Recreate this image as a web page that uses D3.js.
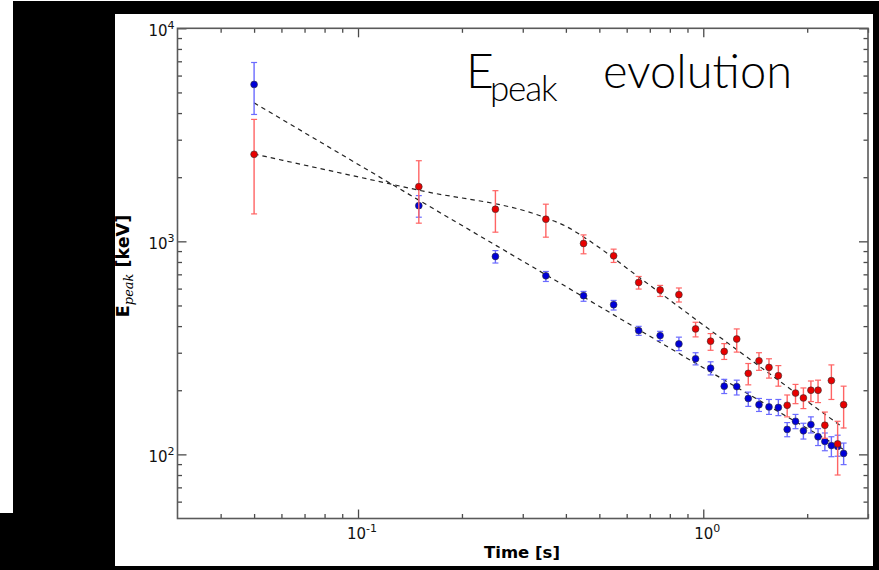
<!DOCTYPE html>
<html>
<head>
<meta charset="utf-8">
<script src="https://cdn.jsdelivr.net/npm/d3@7/dist/d3.min.js"></script>
<style>
  html, body { margin: 0; padding: 0; background: #000; }
  svg { display: block; }
</style>
</head>
<body>
<svg id="chart" width="879" height="570"></svg>
<script>
// Time bins (s)
const times = [0.05, 0.15, 0.25, 0.35, 0.45, 0.55, 0.65, 0.75, 0.85, 0.95,
               1.05, 1.15, 1.25, 1.35, 1.45, 1.55, 1.65, 1.75, 1.85, 1.95,
               2.05, 2.15, 2.25, 2.35, 2.45, 2.55];

// Blue series: Epeak (keV) with lower / upper error bounds
const blueE  = [5450, 1470, 849, 689, 556, 504, 381, 361, 330, 281,
                254, 209, 208, 183, 171, 167, 166, 131, 143, 129,
                138, 121, 115, 110, 109, 101];
const blueLo = [3940, 1298, 791, 648, 523, 476, 362, 342, 307, 263,
                236, 193, 190, 168, 159, 154, 152, 121, 132, 118,
                126, 110, 104, 97.5, 98, 89.5];
const blueHi = [6910, 1639, 905, 722, 582, 528, 399, 378, 355, 300,
                272, 225, 223, 196, 183, 181, 181, 141, 154, 140,
                150, 132, 126, 121, 123, 113];

// Red series: Epeak (keV) with lower / upper error bounds
const redE  = [2561, 1806, 1415, 1270, 977, 855, 641, 591, 562, 388,
               340, 304, 348, 240, 275, 256, 234, 170, 194, 184,
               200, 200, 137, 222, 112, 171];
const redLo = [1345, 1217, 1104, 1046, 874, 796, 597, 551, 519, 356,
               308, 279, 302, 212, 248, 228, 209, 150, 173, 164,
               177, 175, 119, 181, 80, 133];
const redHi = [3736, 2390, 1729, 1494, 1072, 919, 684, 621, 604, 417,
               369, 331, 388, 267, 300, 281, 261, 190, 213, 205,
               221, 223, 158, 263, 143, 209];

// Fitted (broken power-law) curves
const blueFitT = [0.05, 0.15, 0.35, 1.0, 2.55];
const blueFitE = [4467, 1561, 697, 255, 105.5];
const redFitT  = [0.05, 0.15, 0.35, 0.40, 0.45, 0.65, 1.0, 1.65, 2.55];
const redFitE  = [2570, 1738, 1288, 1177, 1049, 680, 405, 223, 133];

// Axis ticks
const xMajor = [0.1, 1];
const xMajorExp = ["-1", "0"];
const xMinor = [0.04, 0.05, 0.06, 0.07, 0.08, 0.09, 0.2, 0.3, 0.4, 0.5, 0.6, 0.7, 0.8, 0.9, 2, 3];
const yMajor = [100, 1000, 10000];
const yMajorExp = ["2", "3", "4"];
const yMinor = [60, 70, 80, 90, 200, 300, 400, 500, 600, 700, 800, 900,
                2000, 3000, 4000, 5000, 6000, 7000, 8000, 9000];

const svg = d3.select("#chart");

// Slide backdrop
svg.append("rect").attr("x", 0).attr("y", 0).attr("width", 879).attr("height", 570).attr("fill", "#000");
svg.append("rect").attr("x", 0).attr("y", 0).attr("width", 879).attr("height", 1).attr("fill", "#fff");
svg.append("rect").attr("x", 0).attr("y", 0).attr("width", 13).attr("height", 513).attr("fill", "#fff");
svg.append("rect").attr("x", 115).attr("y", 14).attr("width", 758).attr("height", 552).attr("fill", "#fff");

const L = 177.5, R = 868, T = 28.3, B = 518.5;
const x = d3.scaleLog().domain([0.03, 3]).range([L, R]);
const y = d3.scaleLog().domain([50, 10000]).range([B, T]);

const tickColor = "#4a4a4a";
function styleAxis(g) {
  g.select(".domain").remove();
  g.selectAll("text").remove();
  g.selectAll("line").attr("stroke", tickColor).attr("stroke-width", 1.3);
}

// Inward ticks on all four sides
svg.append("g").attr("transform", `translate(0,${B})`)
  .call(d3.axisBottom(x).tickValues(xMajor).tickSize(-9)).call(styleAxis);
svg.append("g").attr("transform", `translate(0,${B})`)
  .call(d3.axisBottom(x).tickValues(xMinor).tickSize(-4.5)).call(styleAxis);
svg.append("g").attr("transform", `translate(0,${T})`)
  .call(d3.axisTop(x).tickValues(xMajor).tickSize(-9)).call(styleAxis);
svg.append("g").attr("transform", `translate(0,${T})`)
  .call(d3.axisTop(x).tickValues(xMinor).tickSize(-4.5)).call(styleAxis);
svg.append("g").attr("transform", `translate(${L},0)`)
  .call(d3.axisLeft(y).tickValues(yMajor).tickSize(-9)).call(styleAxis);
svg.append("g").attr("transform", `translate(${L},0)`)
  .call(d3.axisLeft(y).tickValues(yMinor).tickSize(-4.5)).call(styleAxis);
svg.append("g").attr("transform", `translate(${R},0)`)
  .call(d3.axisRight(y).tickValues(yMajor).tickSize(-9)).call(styleAxis);
svg.append("g").attr("transform", `translate(${R},0)`)
  .call(d3.axisRight(y).tickValues(yMinor).tickSize(-4.5)).call(styleAxis);

// Frame
svg.append("rect").attr("x", L).attr("y", T).attr("width", R - L).attr("height", B - T)
  .attr("fill", "none").attr("stroke", "#5a5a5a").attr("stroke-width", 1.6);

// Tick labels (powers of ten)
const labelFont = "DejaVu Sans, sans-serif";
xMajor.forEach((v, i) => {
  const t = svg.append("text").attr("x", x(v) + 4).attr("y", B + 20)
    .attr("text-anchor", "middle").attr("font-family", labelFont).attr("font-size", 15).attr("fill", "#111");
  t.append("tspan").text("10");
  t.append("tspan").attr("dy", -7).attr("font-size", 11).text(xMajorExp[i]);
});
yMajor.forEach((v, i) => {
  const t = svg.append("text").attr("x", L - 3).attr("y", y(v) + 8)
    .attr("text-anchor", "end").attr("font-family", labelFont).attr("font-size", 15).attr("fill", "#111");
  t.append("tspan").text("10");
  t.append("tspan").attr("dy", -7).attr("font-size", 11).text(yMajorExp[i]);
});

// Axis titles
svg.append("text").attr("x", 522).attr("y", 558).attr("text-anchor", "middle")
  .attr("font-family", labelFont).attr("font-weight", "bold").attr("font-size", 16.5).attr("fill", "#000")
  .text("Time [s]");

const yl = svg.append("text").attr("transform", "translate(129,266) rotate(-90)")
  .attr("text-anchor", "middle").attr("font-family", labelFont).attr("font-weight", "bold")
  .attr("font-size", 17.5).attr("fill", "#000");
yl.append("tspan").text("E");
yl.append("tspan").attr("dy", 4).attr("font-family", "DejaVu Serif, serif").attr("font-style", "italic")
  .attr("font-weight", "normal").attr("font-size", 13).text("peak");
yl.append("tspan").attr("dy", -4).text(" [keV]");

// Fitted curves
const fitLine = d3.line().x(d => x(d[0])).y(d => y(d[1])).curve(d3.curveMonotoneX);
[[blueFitT, blueFitE], [redFitT, redFitE]].forEach(([ts, es]) => {
  svg.append("path").datum(ts.map((t, i) => [t, es[i]]))
    .attr("d", fitLine).attr("fill", "none").attr("stroke", "#222")
    .attr("stroke-width", 1.2).attr("stroke-dasharray", "4.5,4");
});

// Error bars and markers
function drawSeries(vals, lo, hi, barColor, fill) {
  const g = svg.append("g");
  const rows = times.map((t, i) => ({ t, v: vals[i], lo: lo[i], hi: hi[i] }));
  g.selectAll("line.bar").data(rows).join("line")
    .attr("x1", d => x(d.t)).attr("x2", d => x(d.t))
    .attr("y1", d => y(d.lo)).attr("y2", d => y(d.hi))
    .attr("stroke", barColor).attr("stroke-width", 1.4);
  ["lo", "hi"].forEach(k => {
    g.selectAll("line.cap" + k).data(rows).join("line")
      .attr("x1", d => x(d.t) - 3).attr("x2", d => x(d.t) + 3)
      .attr("y1", d => y(d[k])).attr("y2", d => y(d[k]))
      .attr("stroke", barColor).attr("stroke-width", 1.2);
  });
  g.selectAll("circle").data(rows).join("circle")
    .attr("cx", d => x(d.t)).attr("cy", d => y(d.v)).attr("r", 3.4)
    .attr("fill", fill).attr("stroke", "#333").attr("stroke-width", 0.6);
}
drawSeries(blueE, blueLo, blueHi, "#6b6bff", "#0000d8");
drawSeries(redE, redLo, redHi, "#ff6464", "#e80000");

// Title: E with "peak" subscript, then "evolution"
const titleFont = "Lato, 'Open Sans', sans-serif";
const title = svg.append("text").attr("y", 88).attr("font-family", titleFont)
  .attr("font-weight", 300).attr("font-size", 48).attr("fill", "#000");
title.append("tspan").attr("x", 466).text("E");
title.append("tspan").attr("x", 490).attr("dy", 13).attr("font-size", 35)
  .attr("letter-spacing", -1.2).text("peak");
title.append("tspan").attr("x", 603).attr("dy", -13).attr("font-size", 47).text("evolution");
</script>
</body>
</html>
